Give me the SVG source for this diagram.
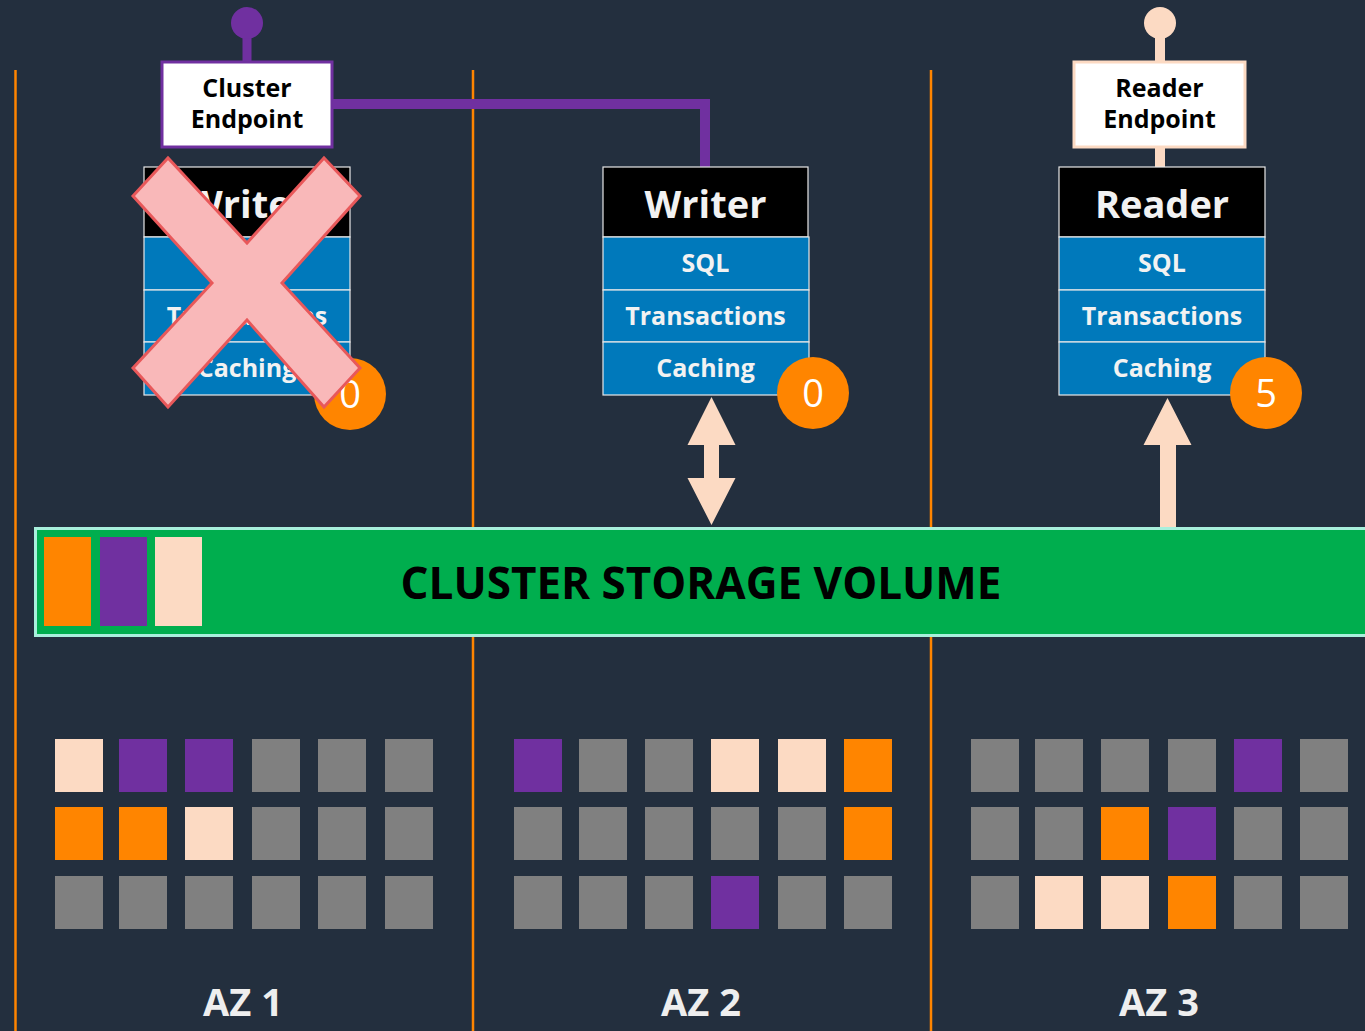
<svg xmlns="http://www.w3.org/2000/svg" width="1365" height="1031" viewBox="0 0 1365 1031">
  <style>
    .bg { fill: #232f3e; }
    .az-line { stroke: #ff8500; stroke-width: 2.5; }
    .hdr { fill: #000000; stroke: #e8e8e8; stroke-width: 1.2; }
    .row { fill: #0079bb; stroke: #e8e8e8; stroke-width: 1.2; }
    .t-hdr { font-family: "Open Sans", "Liberation Sans", sans-serif; font-weight: 700; font-size: 38px; fill: #f2f2f2; text-anchor: middle; }
    .t-row { font-family: "Open Sans", "Liberation Sans", sans-serif; font-weight: 700; font-size: 25px; fill: #f2f2f2; text-anchor: middle; }
    .badge { fill: #ff8500; }
    .t-badge { font-family: "Open Sans", "Liberation Sans", sans-serif; font-weight: 400; font-size: 38px; fill: #ffffff; text-anchor: middle; }
    .ep { fill: #ffffff; stroke-width: 3; }
    .t-ep { font-family: "Open Sans", "Liberation Sans", sans-serif; font-weight: 700; font-size: 25px; fill: #000000; text-anchor: middle; }
    .t-az { font-family: "Open Sans", "Liberation Sans", sans-serif; font-weight: 700; font-size: 38px; fill: #eeeeee; text-anchor: middle; }
    .pe { fill: #fcdac3; }
    .pu { fill: #7030a0; }
    .or { fill: #ff8500; }
    .gr { fill: #808080; }
  </style>
  <defs>
    <!-- database instance: header + three layer rows -->
    <g id="inst-rows">
      <rect class="row" x="0" y="70" width="206" height="53"/>
      <rect class="row" x="0" y="123" width="206" height="52"/>
      <rect class="row" x="0" y="175" width="206" height="53"/>
    </g>
  </defs>

  <rect class="bg" x="0" y="0" width="1365" height="1031"/>

  <!-- availability zone dividers -->
  <g id="az-dividers">
    <line class="az-line" x1="15.5" y1="70" x2="15.5" y2="1031"/>
    <line class="az-line" x1="473" y1="70" x2="473" y2="1031"/>
    <line class="az-line" x1="931" y1="70" x2="931" y2="1031"/>
  </g>

  <!-- connectors -->
  <g id="connectors">
    <!-- cluster endpoint wiring -->
    <line x1="247" y1="23" x2="247" y2="62" stroke="#7030a0" stroke-width="9"/>
    <circle cx="247" cy="23" r="16" fill="#7030a0"/>
    <polyline points="332,104 705,104 705,167" fill="none" stroke="#7030a0" stroke-width="10"/>
    <!-- reader endpoint wiring -->
    <line x1="1160" y1="23" x2="1160" y2="168" stroke="#fcdac3" stroke-width="10"/>
    <circle cx="1160" cy="23" r="16" fill="#fcdac3"/>
    <!-- writer <-> storage -->
    <polygon class="pe" points="711.5,397 735.5,445 719,445 719,478 735.5,478 711.5,525 687.5,478 704,478 704,445 687.5,445"/>
    <!-- storage -> reader -->
    <polygon class="pe" points="1167.5,398 1191.5,445 1176,445 1176,527 1160,527 1160,445 1143.5,445"/>
  </g>

  <!-- failed writer in AZ 1 -->
  <g id="writer-az1">
    <rect class="hdr" x="144" y="167" width="206" height="70"/>
    <use href="#inst-rows" x="144" y="167"/>
    <text class="t-hdr" x="247" y="218">Writer</text>
    <text class="t-row" x="247" y="272">SQL</text>
    <text class="t-row" x="247" y="325">Transactions</text>
    <text class="t-row" x="247" y="377">Caching</text>
    <circle class="badge" cx="350" cy="394" r="36"/>
    <text class="t-badge" x="350" y="408">0</text>
    <polygon points="133,196 168,158 247,243 324,158 360,196 282,283 360,368 324,407 247,320 168,407 133,368 212,283" fill="#f9b8b9" stroke="#e8585a" stroke-width="3" stroke-linejoin="miter"/>
  </g>

  <g id="cluster-endpoint">
    <rect class="ep" x="162" y="62" width="170" height="85" stroke="#7030a0"/>
    <text class="t-ep" x="247" y="97">Cluster</text>
    <text class="t-ep" x="247" y="128">Endpoint</text>
  </g>

  <!-- writer in AZ 2 -->
  <g id="writer-az2">
    <rect class="hdr" x="603" y="167" width="205" height="70"/>
    <use href="#inst-rows" x="603" y="167" transform="translate(0,0)"/>
    <text class="t-hdr" x="705.5" y="218">Writer</text>
    <text class="t-row" x="705.5" y="272">SQL</text>
    <text class="t-row" x="705.5" y="325">Transactions</text>
    <text class="t-row" x="705.5" y="377">Caching</text>
    <circle class="badge" cx="813" cy="393" r="36"/>
    <text class="t-badge" x="813" y="407">0</text>
  </g>

  <g id="reader-endpoint">
    <rect class="ep" x="1074" y="62" width="171" height="85" stroke="#fcdac3"/>
    <text class="t-ep" x="1159.5" y="97">Reader</text>
    <text class="t-ep" x="1159.5" y="128">Endpoint</text>
  </g>

  <!-- reader in AZ 3 -->
  <g id="reader-az3">
    <rect class="hdr" x="1059" y="167" width="206" height="70"/>
    <use href="#inst-rows" x="1059" y="167"/>
    <text class="t-hdr" x="1162" y="218">Reader</text>
    <text class="t-row" x="1162" y="272">SQL</text>
    <text class="t-row" x="1162" y="325">Transactions</text>
    <text class="t-row" x="1162" y="377">Caching</text>
    <circle class="badge" cx="1266" cy="393" r="36"/>
    <text class="t-badge" x="1266" y="407">5</text>
  </g>

  <!-- shared storage volume -->
  <g id="storage-volume">
    <rect x="35.5" y="528.5" width="1340" height="107" fill="#00ae4e" stroke="#a8f0dc" stroke-width="3"/>
    <rect class="or" x="44" y="537" width="47" height="89"/>
    <rect class="pu" x="100" y="537" width="47" height="89"/>
    <rect class="pe" x="155" y="537" width="47" height="89"/>
    <text x="701" y="599" font-family="'Open Sans', 'Liberation Sans', sans-serif" font-weight="700" font-size="44" fill="#000000" text-anchor="middle">CLUSTER STORAGE VOLUME</text>
  </g>

  <!-- storage segments, AZ 1 -->
  <g id="segments-az1">
    <rect class="pe" x="55" y="739" width="48" height="53"/>
    <rect class="pu" x="119" y="739" width="48" height="53"/>
    <rect class="pu" x="185" y="739" width="48" height="53"/>
    <rect class="gr" x="252" y="739" width="48" height="53"/>
    <rect class="gr" x="318" y="739" width="48" height="53"/>
    <rect class="gr" x="385" y="739" width="48" height="53"/>
    <rect class="or" x="55" y="807" width="48" height="53"/>
    <rect class="or" x="119" y="807" width="48" height="53"/>
    <rect class="pe" x="185" y="807" width="48" height="53"/>
    <rect class="gr" x="252" y="807" width="48" height="53"/>
    <rect class="gr" x="318" y="807" width="48" height="53"/>
    <rect class="gr" x="385" y="807" width="48" height="53"/>
    <rect class="gr" x="55" y="876" width="48" height="53"/>
    <rect class="gr" x="119" y="876" width="48" height="53"/>
    <rect class="gr" x="185" y="876" width="48" height="53"/>
    <rect class="gr" x="252" y="876" width="48" height="53"/>
    <rect class="gr" x="318" y="876" width="48" height="53"/>
    <rect class="gr" x="385" y="876" width="48" height="53"/>
    <text class="t-az" x="243" y="1016">AZ 1</text>
  </g>

  <!-- storage segments, AZ 2 -->
  <g id="segments-az2">
    <rect class="pu" x="514" y="739" width="48" height="53"/>
    <rect class="gr" x="579" y="739" width="48" height="53"/>
    <rect class="gr" x="645" y="739" width="48" height="53"/>
    <rect class="pe" x="711" y="739" width="48" height="53"/>
    <rect class="pe" x="778" y="739" width="48" height="53"/>
    <rect class="or" x="844" y="739" width="48" height="53"/>
    <rect class="gr" x="514" y="807" width="48" height="53"/>
    <rect class="gr" x="579" y="807" width="48" height="53"/>
    <rect class="gr" x="645" y="807" width="48" height="53"/>
    <rect class="gr" x="711" y="807" width="48" height="53"/>
    <rect class="gr" x="778" y="807" width="48" height="53"/>
    <rect class="or" x="844" y="807" width="48" height="53"/>
    <rect class="gr" x="514" y="876" width="48" height="53"/>
    <rect class="gr" x="579" y="876" width="48" height="53"/>
    <rect class="gr" x="645" y="876" width="48" height="53"/>
    <rect class="pu" x="711" y="876" width="48" height="53"/>
    <rect class="gr" x="778" y="876" width="48" height="53"/>
    <rect class="gr" x="844" y="876" width="48" height="53"/>
    <text class="t-az" x="701" y="1016">AZ 2</text>
  </g>

  <!-- storage segments, AZ 3 -->
  <g id="segments-az3">
    <rect class="gr" x="971" y="739" width="48" height="53"/>
    <rect class="gr" x="1035" y="739" width="48" height="53"/>
    <rect class="gr" x="1101" y="739" width="48" height="53"/>
    <rect class="gr" x="1168" y="739" width="48" height="53"/>
    <rect class="pu" x="1234" y="739" width="48" height="53"/>
    <rect class="gr" x="1300" y="739" width="48" height="53"/>
    <rect class="gr" x="971" y="807" width="48" height="53"/>
    <rect class="gr" x="1035" y="807" width="48" height="53"/>
    <rect class="or" x="1101" y="807" width="48" height="53"/>
    <rect class="pu" x="1168" y="807" width="48" height="53"/>
    <rect class="gr" x="1234" y="807" width="48" height="53"/>
    <rect class="gr" x="1300" y="807" width="48" height="53"/>
    <rect class="gr" x="971" y="876" width="48" height="53"/>
    <rect class="pe" x="1035" y="876" width="48" height="53"/>
    <rect class="pe" x="1101" y="876" width="48" height="53"/>
    <rect class="or" x="1168" y="876" width="48" height="53"/>
    <rect class="gr" x="1234" y="876" width="48" height="53"/>
    <rect class="gr" x="1300" y="876" width="48" height="53"/>
    <text class="t-az" x="1159" y="1016">AZ 3</text>
  </g>
</svg>
